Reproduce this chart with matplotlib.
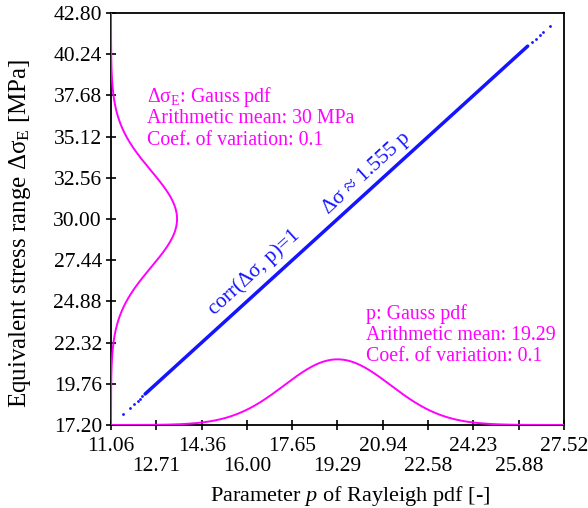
import numpy as np
import matplotlib
matplotlib.use("Agg")
import matplotlib.pyplot as plt

# ---- data ----
x_ticks = [11.06, 12.71, 14.36, 16.00, 17.65, 19.29, 20.94, 22.58, 24.23, 25.88, 27.52]
y_ticks = [17.20, 19.76, 22.32, 24.88, 27.44, 30.00, 32.56, 35.12, 37.68, 40.24, 42.80]

p_mean, p_cov, p_peak = 19.29, 0.1, 4.08        # bottom Gauss pdf (peak height in MPa units)
ds_mean, ds_cov, ds_peak = 30.0, 0.1, 2.40      # left Gauss pdf (peak height in p units)
ratio = 1.555                                   # delta sigma ~ 1.555 p

p_dense = [12.30, 26.20]                        # continuous dense band of samples
p_sparse = [11.49, 11.75, 11.91, 12.03, 12.11, 12.20,
            26.36, 26.50, 26.65, 26.75, 27.01]

serif = "Liberation Serif"
plt.rcParams["font.family"] = [serif, "DejaVu Serif"]
plt.rcParams["mathtext.fontset"] = "custom"
plt.rcParams["mathtext.rm"] = serif
plt.rcParams["mathtext.it"] = serif + ":italic"
plt.rcParams["mathtext.bf"] = serif + ":bold"

MAG = "#ff00ff"
BLUE = "#1414ff"
FS_ANN = 14.3
FS_TICK = 15.5
FS_ROT = 15.3

fig = plt.figure(figsize=(5.88, 5.08), dpi=100)
ax = fig.add_axes([111/588, 83/508, 453/588, 412/508])

xmin, xmax = x_ticks[0], x_ticks[-1]
ymin, ymax = y_ticks[0], y_ticks[-1]

# Gauss pdf curves
ys = np.linspace(ymin, ymax, 600)
s_ds = ds_mean * ds_cov
ax.plot(xmin + ds_peak * np.exp(-0.5 * ((ys - ds_mean) / s_ds) ** 2), ys,
        color=MAG, lw=1.4, zorder=3)
xs = np.linspace(xmin, xmax, 600)
s_p = p_mean * p_cov
ax.plot(xs, ymin + p_peak * np.exp(-0.5 * ((xs - p_mean) / s_p) ** 2),
        color=MAG, lw=1.4, zorder=3)

# correlated samples
pd_ = np.array(p_dense)
ax.plot(pd_, ratio * pd_, color=BLUE, lw=2.5, solid_capstyle="round", zorder=4)
ps = np.array(p_sparse)
ax.plot(ps, ratio * ps, ls="none", marker="o", ms=2.0, mec="none", mfc=BLUE, zorder=4)

ax.set_xlim(xmin, xmax)
ax.set_ylim(ymin, ymax)

ax.set_xticks(x_ticks)
ax.set_xticklabels([f"{v:.2f}" if i % 2 == 0 else f"\n{v:.2f}" for i, v in enumerate(x_ticks)],
                   fontsize=FS_TICK, linespacing=1.05)
ax.set_yticks(y_ticks)
ax.set_yticklabels([f"{v:.2f}" for v in y_ticks], fontsize=FS_TICK)
ax.tick_params(direction="inout", length=7, width=1.2, colors="black", pad=3)
ax.tick_params(axis="x", pad=5)

for sp in ax.spines.values():
    sp.set_linewidth(1.3)
    sp.set_color("black")

ax.set_xlabel(r"Parameter $\mathit{p}$ of Rayleigh pdf [-]", fontsize=16)
ax.xaxis.set_label_coords(0.528, -0.143)
ax.set_ylabel(r"Equivalent stress range $\mathrm{Δσ}_{\mathrm{E}}$ [MPa]", fontsize=18)
ax.yaxis.set_label_coords(-0.172, 0.465)

# annotations
left_lines = [r"$\mathrm{Δσ}_{\mathrm{E}}$: Gauss pdf", "Arithmetic mean: 30 MPa", "Coef. of variation: 0.1"]
for i, t in enumerate(left_lines):
    ax.text(0.0795, 0.796 - i * 0.053, t, transform=ax.transAxes, color=MAG,
            fontsize=FS_ANN, ha="left", va="center")
right_lines = ["p: Gauss pdf", "Arithmetic mean: 19.29", "Coef. of variation: 0.1"]
for i, t in enumerate(right_lines):
    ax.text(0.564, 0.270 - i * 0.052, t, transform=ax.transAxes, color=MAG,
            fontsize=FS_ANN, ha="left", va="center")

ax.text(0.316, 0.371, "corr(Δσ, p)=1", transform=ax.transAxes, color=BLUE,
        fontsize=FS_ROT, rotation=42.5, ha="center", va="center", rotation_mode="anchor")
ax.text(0.565, 0.612, "Δσ ≈ 1.555 p", transform=ax.transAxes, color=BLUE,
        fontsize=FS_ROT, rotation=42.5, ha="center", va="center", rotation_mode="anchor")

fig.savefig("out.png", dpi=100)
